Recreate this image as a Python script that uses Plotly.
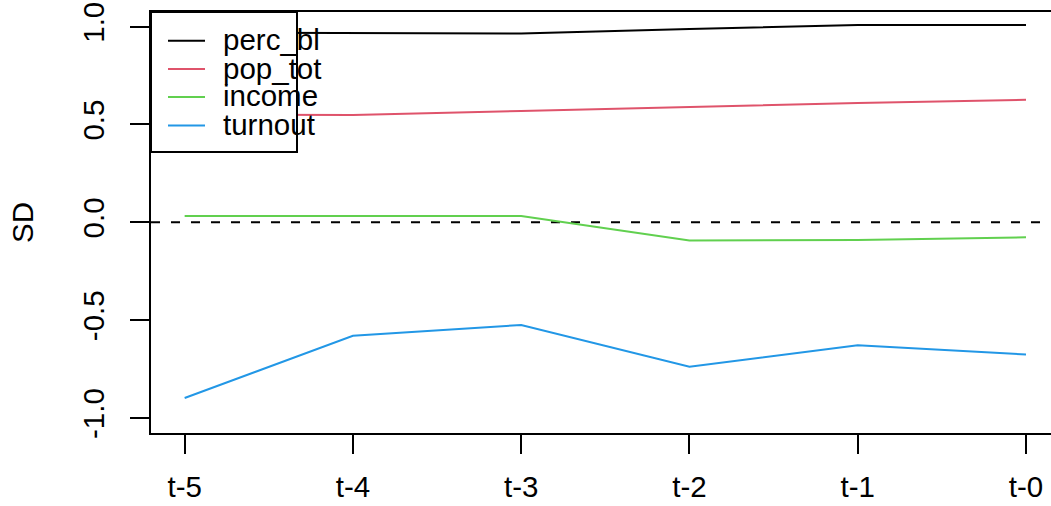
import plotly.graph_objects as go

# ---- data ----
periods = ["t-5", "t-4", "t-3", "t-2", "t-1", "t-0"]
perc_bl = [0.97, 0.968, 0.965, 0.988, 1.009, 1.009]
pop_tot = [0.55, 0.549, 0.569, 0.59, 0.61, 0.626]
income = [0.032, 0.032, 0.032, -0.093, -0.09, -0.077]
turnout = [-0.898, -0.58, -0.525, -0.738, -0.629, -0.676]

series_names = ["perc_bl", "pop_tot", "income", "turnout"]
series_values = [perc_bl, pop_tot, income, turnout]
colors = ["#000000", "#DF536B", "#61D04F", "#2297E6"]

y_ticks = [-1.0, -0.5, 0.0, 0.5, 1.0]
y_tick_labels = ["-1.0", "-0.5", "0.0", "0.5", "1.0"]

FONT = "Liberation Sans, Arial, Helvetica, sans-serif"
FS = 29.5

W, H = 1051, 506
L, R, T, B = 151, 0, 12, 73
pw, ph = W - L - R, H - T - B

xpos = list(range(len(periods)))

fig = go.Figure()
for name, vals, col in zip(series_names, series_values, colors):
    fig.add_trace(go.Scatter(x=xpos, y=vals, mode="lines", name=name,
                             line=dict(color=col, width=2), showlegend=False))

# horizontal reference line at 0
fig.add_shape(type="line", xref="x domain", yref="y", x0=0, x1=1, y0=0, y1=0,
              line=dict(color="black", width=2, dash="9px,11px"), layer="below")

# manual R-style legend
def px_x(p):
    return (p - L) / pw

def px_y(p):
    return (H - B - p) / ph

fig.add_shape(type="rect", xref="paper", yref="paper",
              x0=px_x(151), x1=px_x(297), y0=px_y(152), y1=px_y(12),
              line=dict(color="black", width=2), fillcolor="white", layer="above")
item_y = [40.7, 69.0, 96.9, 125.4]
for name, col, yy in zip(series_names, colors, item_y):
    fig.add_shape(type="line", xref="paper", yref="paper",
                  x0=px_x(168), x1=px_x(205), y0=px_y(yy), y1=px_y(yy),
                  line=dict(color=col, width=2), layer="above")
    fig.add_annotation(xref="paper", yref="paper", x=px_x(221), y=px_y(yy - 1),
                       text=name, showarrow=False, xanchor="left", yanchor="middle",
                       font=dict(family=FONT, size=FS, color="black"))

fig.update_layout(
    width=W, height=H,
    margin=dict(l=L, r=R, t=T, b=B, pad=0),
    paper_bgcolor="white", plot_bgcolor="white",
    font=dict(family=FONT, size=FS, color="black"),
    showlegend=False,
    xaxis=dict(range=[-0.2, 5 + (W - 1026) / 168.3], tickmode="array",
               tickvals=xpos, ticktext=periods, showgrid=False, zeroline=False,
               showline=True, linecolor="black", linewidth=2, mirror=True,
               ticks="outside", ticklen=19, tickwidth=1.5, tickcolor="black",
               tickfont=dict(family=FONT, size=FS), ticklabelstandoff=8),
    yaxis=dict(range=[-1.077, 1.075], tickmode="array", tickvals=y_ticks,
               ticktext=y_tick_labels, showgrid=False, zeroline=False,
               showline=True, linecolor="black", linewidth=2, mirror=False,
               ticks="outside", ticklen=19, tickwidth=1.5, tickcolor="black",
               tickangle=-90, tickfont=dict(family=FONT, size=FS),
               ticklabelstandoff=14,
               title=dict(text="SD", font=dict(family=FONT, size=FS), standoff=35)),
)

fig.write_html("out.html")
